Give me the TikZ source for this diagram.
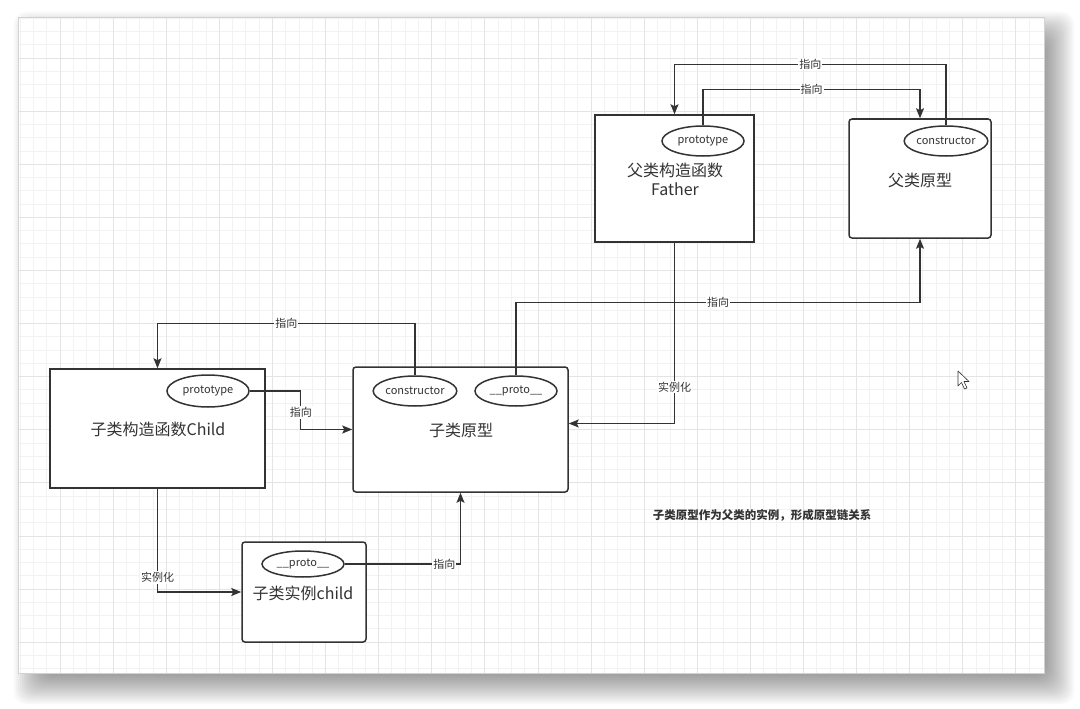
\documentclass[tikz,border=0pt]{standalone}
\usepackage{fontspec}
\setmainfont{Noto Sans CJK SC}
\usetikzlibrary{shapes.geometric,arrows.meta}
\definecolor{ink}{HTML}{333333}
\definecolor{gridminor}{HTML}{F2F2F2}
\definecolor{gridmajor}{HTML}{E4E4E4}
\begin{document}
\begin{tikzpicture}[x=1pt,y=-1pt,
  box/.style={draw=ink, line width=1.5pt, fill=white, inner sep=0pt},
  rbox/.style={box, rounded corners=3pt},
  oval/.style={ellipse, draw=ink, line width=1.5pt, fill=white, minimum width=82pt, minimum height=30pt, inner sep=0pt, font=\fontsize{11}{13}\selectfont, text=ink},
  title/.style={font=\fontsize{16}{19}\selectfont, text=ink, align=center},
  conn/.style={draw=ink, line width=1.4pt, -{Stealth[length=10pt,width=8pt,inset=2pt]}},
  lbl/.style={fill=white, inner sep=1pt, font=\fontsize{11}{13}\selectfont, text=ink}]
\useasboundingbox (0,0) rectangle (1080,709);
\fill[white] (0,0) rectangle (1080,709);
% shadow
\foreach \e in {-12,-10,...,24}
  \fill[black,opacity=0.026,rounded corners=12pt] (38-\e,36-\e) rectangle (1050+\e,680+\e);
% panel
\fill[white] (18,17) rectangle (1044,673);
\foreach \k in {1,...,77} {
  \pgfmathsetmacro\xx{6.9+\k*13.275}
  \draw[gridminor, line width=0.8pt] (\xx,17) -- (\xx,673);
}
\foreach \k in {1,...,50} {
  \pgfmathsetmacro\yy{4.9+\k*13.275}
  \draw[gridminor, line width=0.8pt] (18,\yy) -- (1044,\yy);
}
\foreach \k in {1,...,19} {
  \pgfmathsetmacro\xx{6.9+4*\k*13.275}
  \draw[gridmajor, line width=0.8pt] (\xx,17) -- (\xx,673);
}
\foreach \k in {1,...,12} {
  \pgfmathsetmacro\yy{4.9+4*\k*13.275}
  \draw[gridmajor, line width=0.8pt] (18,\yy) -- (1044,\yy);
}
\draw[gray!35, line width=0.6pt] (18,17) rectangle (1044,673);

% Father constructor
\node[box, minimum width=159pt, minimum height=127pt] (fbox) at (674.5,178.5) {};
\node[oval] (fproto) at (703,141) {prototype};
\node[title] (ftitle) at (675,179) {父类构造函数\\Father};
% Father prototype
\node[rbox, minimum width=142pt, minimum height=119pt] (fpbox) at (920,178.5) {};
\node[oval] (fpc) at (946,141) {constructor};
\node[title] (fptitle) at (920,180) {父类原型};
% Child constructor
\node[box, minimum width=215pt, minimum height=119pt] (cbox) at (157.5,428.5) {};
\node[oval, minimum height=32pt] (cproto) at (208,391) {prototype};
\node[title] (ctitle) at (158,429) {子类构造函数Child};
% Child prototype
\node[rbox, minimum width=215pt, minimum height=125pt] (cpbox) at (460.5,429.5) {};
\node[oval] (cpc) at (415,391) {constructor};
\node[oval] (cpp) at (516,391) {\_\_proto\_\_};
\node[title] (cptitle) at (461,430) {子类原型};
% Child instance
\node[rbox, minimum width=124pt, minimum height=100pt] (ibox) at (304,592) {};
\node[oval, minimum height=26pt] (ip) at (303,564) {\_\_proto\_\_};
\node[title] (ititle) at (303,593) {子类实例child};

% connectors
\draw[conn] (fpc.north) -- ++(0,-61) -| node[lbl,pos=0.25]{指向} (fbox.north);
\draw[conn] (fproto.north) -- ++(0,-36) -| node[lbl,pos=0.25]{指向} (fpbox.north);
\draw[conn] (cpc.north) -- ++(0,-52) -| node[lbl,pos=0.25]{指向} (cbox.north);
\draw[conn] (cproto.east) -- ++(51,0) |- node[lbl,pos=0.28]{指向} (cpbox.west);
\draw[conn] (cpp.north) -- ++(0,-73) -| node[lbl,pos=0.25]{指向} (fpbox.south);
\draw[conn] (fbox.south) |- node[lbl,pos=0.4]{实例化} ([yshift=6pt]cpbox.east);
\draw[conn] (cbox.south) |- node[lbl,pos=0.43]{实例化} (ibox.west);
\draw[conn] (ip.east) -| node[lbl,pos=0.43]{指向} (cpbox.south);

% note
\node[font=\bfseries\fontsize{11.5}{14}\selectfont, text=ink] (note) at (762,515) {子类原型作为父类的实例，形成原型链关系};

% mouse cursor
\draw[ink, line width=0.6pt, fill=white, line join=round] (958,371) -- (958,386) -- (961.5,382.5) -- (964.5,389) -- (967,388) -- (964,381.5) -- (969,381.5) -- cycle;
\end{tikzpicture}
\end{document}
